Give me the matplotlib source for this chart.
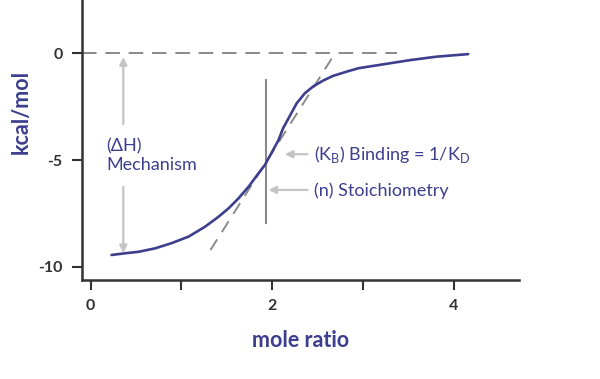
import matplotlib
matplotlib.use("Agg")
import matplotlib.pyplot as plt

# binding isotherm
mole_ratio = [0.23, 0.38, 0.53, 0.71, 0.89, 1.08, 1.26, 1.41, 1.52, 1.63,
              1.74, 1.85, 1.92, 1.99, 2.07, 2.12, 2.20, 2.27, 2.36, 2.45,
              2.56, 2.67, 2.82, 2.95, 3.22, 3.52, 3.81, 4.16]
heat = [-9.44, -9.36, -9.29, -9.13, -8.89, -8.58, -8.12, -7.65, -7.26, -6.79,
        -6.25, -5.62, -5.23, -4.69, -4.07, -3.52, -2.90, -2.35, -1.88, -1.57,
        -1.29, -1.07, -0.87, -0.71, -0.53, -0.33, -0.17, -0.05]

# tangent at the inflection point and stoichiometry marker
tangent_x = [1.32, 2.66]
tangent_y = [-9.21, -0.23]
stoich_x = 1.93
stoich_y = [-1.26, -7.94]

x_ticks = [0, 1, 2, 3, 4]
x_tick_labels = ["0", "", "2", "", "4"]
y_ticks = [0, -5, -10]
y_tick_labels = ["0", "-5", "-10"]

NAVY = "#3d3f8e"
DARK = "#333333"
GRAY = "#8a8a8a"
LIGHT = "#c4c4c4"
FONT = ["Lato", "DejaVu Sans"]

plt.rcParams["font.family"] = FONT

fig = plt.figure(figsize=(6, 3.79), dpi=100)
ax = fig.add_axes([0.1367, 0.2612, 0.7283, 0.7388])

ax.plot(mole_ratio, heat, color=NAVY, lw=1.9, solid_capstyle="round",
        solid_joinstyle="round", zorder=3)
ax.plot(tangent_x, tangent_y, color=GRAY, lw=1.4, dashes=(6.5, 4.5), zorder=2)
ax.axhline(0, xmin=0, xmax=0.72, color=GRAY, lw=1.4, dashes=(7.5, 4.5),
           zorder=1)
ax.plot([stoich_x, stoich_x], stoich_y, color=GRAY, lw=1.5, zorder=2)

arrow = dict(arrowstyle="-|>", color=LIGHT, lw=1.6, mutation_scale=11,
             shrinkA=0, shrinkB=0)
# delta H arrows
ax.annotate("", xy=(0.36, -0.19), xytext=(0.36, -3.32), arrowprops=arrow)
ax.annotate("", xy=(0.36, -9.35), xytext=(0.36, -6.26), arrowprops=arrow)
# binding / stoichiometry arrows
ax.annotate("", xy=(2.14, -4.73), xytext=(2.39, -4.73), arrowprops=arrow)
ax.annotate("", xy=(1.96, -6.40), xytext=(2.39, -6.40), arrowprops=arrow)

ax.text(0.17, -4.81, "(\u0394H)\nMechanism", color=NAVY, fontsize=13,
        ha="left", va="center", linespacing=1.2)
ax.text(2.46, -4.75, r"(K$_\mathregular{B}$) Binding = 1/K$_\mathregular{D}$",
        color=NAVY, fontsize=13, ha="left", va="center")
ax.text(2.46, -6.42, "(n) Stoichiometry", color=NAVY, fontsize=13,
        ha="left", va="center")

ax.set_xlim(-0.095, 4.72)
ax.set_ylim(-10.61, 2.48)
ax.set_xticks(x_ticks)
ax.set_xticklabels(x_tick_labels)
ax.set_yticks(y_ticks)
ax.set_yticklabels(y_tick_labels)

for side in ("top", "right"):
    ax.spines[side].set_visible(False)
for side in ("left", "bottom"):
    ax.spines[side].set_color(DARK)
    ax.spines[side].set_linewidth(1.8)

ax.tick_params(direction="out", length=7, width=1.5, color=DARK,
               labelcolor=DARK, labelsize=11.5, pad=7)
for lbl in ax.get_xticklabels() + ax.get_yticklabels():
    lbl.set_fontweight("bold")

ax.set_xlabel("mole ratio", color=NAVY, fontsize=15.5, fontweight="bold")
ax.set_ylabel("kcal/mol", color=NAVY, fontsize=15.5, fontweight="bold")
ax.xaxis.set_label_coords(0.5, -0.18)
ax.yaxis.set_label_coords(-0.114, 0.60)

fig.savefig("out.png", dpi=100)
